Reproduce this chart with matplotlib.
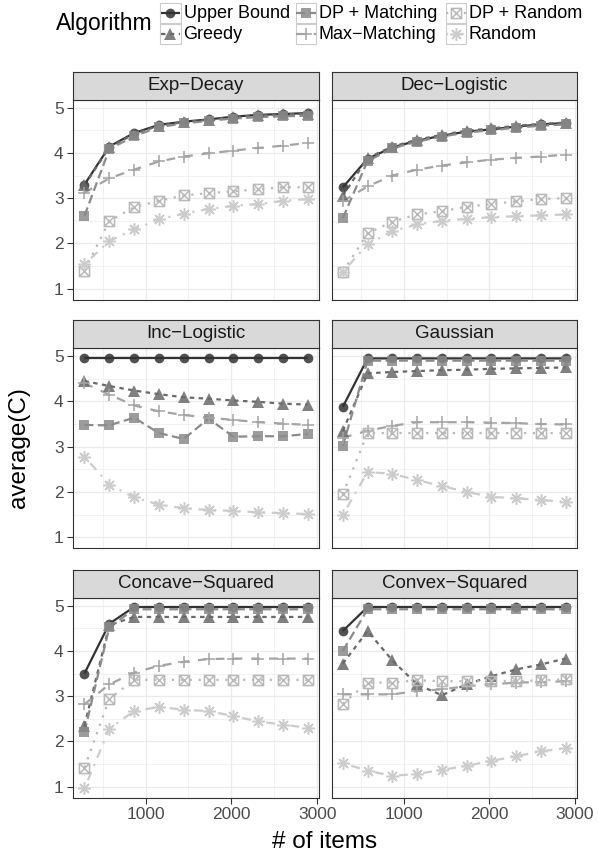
import numpy as np
import matplotlib
matplotlib.use("Agg")
import matplotlib.pyplot as plt
from matplotlib.path import Path
from matplotlib.patches import Rectangle

plt.rcParams['font.family'] = ['Liberation Sans', 'DejaVu Sans']

# ---------------- data ----------------
items = [289, 578, 867, 1156, 1445, 1734, 2023, 2312, 2601, 2890]
algorithms = ["Upper Bound", "Greedy", "DP + Matching", "Max\u2212Matching", "DP + Random", "Random"]
facets = ["Exp\u2212Decay", "Dec\u2212Logistic", "Inc\u2212Logistic", "Gaussian",
          "Concave\u2212Squared", "Convex\u2212Squared"]

exp_decay = {
    "Upper Bound":   [3.30, 4.14, 4.44, 4.62, 4.69, 4.74, 4.80, 4.84, 4.86, 4.88],
    "Greedy":        [3.28, 4.12, 4.42, 4.60, 4.68, 4.73, 4.79, 4.83, 4.85, 4.87],
    "DP + Matching": [2.61, 4.08, 4.37, 4.57, 4.65, 4.71, 4.76, 4.79, 4.81, 4.82],
    "Max\u2212Matching": [3.12, 3.44, 3.63, 3.81, 3.92, 3.99, 4.05, 4.11, 4.16, 4.22],
    "DP + Random":   [1.40, 2.49, 2.80, 2.94, 3.06, 3.11, 3.15, 3.20, 3.24, 3.24],
    "Random":        [1.54, 2.05, 2.31, 2.53, 2.66, 2.76, 2.83, 2.87, 2.94, 2.98],
}
dec_logistic = {
    "Upper Bound":   [3.24, 3.87, 4.12, 4.27, 4.38, 4.47, 4.52, 4.58, 4.63, 4.66],
    "Greedy":        [3.05, 3.89, 4.14, 4.29, 4.40, 4.49, 4.54, 4.60, 4.64, 4.67],
    "DP + Matching": [2.56, 3.82, 4.10, 4.25, 4.36, 4.45, 4.50, 4.56, 4.60, 4.63],
    "Max\u2212Matching": [2.93, 3.26, 3.50, 3.63, 3.72, 3.79, 3.85, 3.89, 3.92, 3.96],
    "DP + Random":   [1.37, 2.22, 2.48, 2.64, 2.71, 2.81, 2.87, 2.93, 2.98, 3.00],
    "Random":        [1.37, 1.98, 2.27, 2.42, 2.50, 2.54, 2.58, 2.60, 2.62, 2.64],
}
inc_logistic = {
    "Upper Bound":   [4.95, 4.95, 4.95, 4.95, 4.95, 4.95, 4.95, 4.95, 4.95, 4.95],
    "Greedy":        [4.45, 4.34, 4.24, 4.16, 4.09, 4.06, 4.02, 3.99, 3.95, 3.93],
    "DP + Matching": [3.48, 3.47, 3.64, 3.30, 3.17, 3.62, 3.22, 3.23, 3.23, 3.28],
    "Max\u2212Matching": [4.40, 4.15, 3.91, 3.78, 3.70, 3.64, 3.59, 3.54, 3.51, 3.48],
    "DP + Random":   [],
    "Random":        [2.78, 2.16, 1.88, 1.72, 1.64, 1.60, 1.58, 1.55, 1.53, 1.51],
}
gaussian = {
    "Upper Bound":   [3.88, 4.95, 4.95, 4.95, 4.95, 4.95, 4.95, 4.95, 4.95, 4.95],
    "Greedy":        [3.35, 4.62, 4.65, 4.67, 4.69, 4.70, 4.72, 4.73, 4.74, 4.75],
    "DP + Matching": [3.02, 4.90, 4.90, 4.90, 4.90, 4.90, 4.90, 4.90, 4.90, 4.90],
    "Max\u2212Matching": [3.20, 3.35, 3.46, 3.54, 3.54, 3.54, 3.53, 3.52, 3.50, 3.49],
    "DP + Random":   [1.95, 3.30, 3.30, 3.30, 3.30, 3.30, 3.30, 3.30, 3.30, 3.30],
    "Random":        [1.49, 2.44, 2.40, 2.26, 2.13, 2.00, 1.89, 1.86, 1.82, 1.78],
}
concave_squared = {
    "Upper Bound":   [3.50, 4.60, 4.97, 4.97, 4.97, 4.97, 4.97, 4.97, 4.97, 4.97],
    "Greedy":        [2.35, 4.57, 4.75, 4.75, 4.75, 4.75, 4.75, 4.75, 4.75, 4.75],
    "DP + Matching": [2.21, 4.52, 4.92, 4.92, 4.92, 4.92, 4.92, 4.92, 4.92, 4.92],
    "Max\u2212Matching": [2.82, 3.26, 3.52, 3.67, 3.76, 3.82, 3.83, 3.83, 3.83, 3.83],
    "DP + Random":   [1.42, 2.94, 3.36, 3.36, 3.36, 3.36, 3.36, 3.36, 3.36, 3.36],
    "Random":        [0.96, 2.28, 2.67, 2.76, 2.70, 2.67, 2.56, 2.44, 2.37, 2.30],
}
convex_squared = {
    "Upper Bound":   [4.44, 4.97, 4.97, 4.97, 4.97, 4.97, 4.97, 4.97, 4.97, 4.97],
    "Greedy":        [3.72, 4.44, 3.79, 3.26, 3.02, 3.26, 3.44, 3.59, 3.70, 3.83],
    "DP + Matching": [4.00, 4.92, 4.92, 4.92, 4.92, 4.92, 4.92, 4.92, 4.92, 4.92],
    "Max\u2212Matching": [3.04, 3.04, 3.04, 3.11, 3.15, 3.22, 3.26, 3.30, 3.31, 3.33],
    "DP + Random":   [2.83, 3.30, 3.30, 3.35, 3.33, 3.33, 3.33, 3.33, 3.35, 3.37],
    "Random":        [1.52, 1.35, 1.24, 1.28, 1.37, 1.46, 1.57, 1.67, 1.78, 1.85],
}
facet_data = [exp_decay, dec_logistic, inc_logistic, gaussian, concave_squared, convex_squared]

x_ticks = [1000, 2000, 3000]
y_ticks = [1, 2, 3, 4, 5]

# ---------------- styles ----------------
colors = ['#333333', '#6A6A6A', '#8B8B8B', '#A4A4A4', '#B9B9B9', '#CCCCCC']
linestyles = ['-', (0, (2, 2)), (0, (4, 2)), (0, (4, 4)), (0, (1, 3)), (0, (1, 3, 4, 3))]
boxx = Path([(-1, -1), (1, -1), (1, 1), (-1, 1), (-1, -1), (-1, -1), (1, 1), (-1, 1), (1, -1)],
            [Path.MOVETO, Path.LINETO, Path.LINETO, Path.LINETO, Path.CLOSEPOLY,
             Path.MOVETO, Path.LINETO, Path.MOVETO, Path.LINETO])
markers = ['o', '^', 's', '+', boxx, (8, 2, 0)]
msizes = [7.0, 8.5, 7.3, 9.0, 7.3, 9.0]
filled = [True, True, True, False, False, False]
LW = 1.6

W, H = 598, 856
fig = plt.figure(figsize=(W / 100, H / 100), dpi=100)

def fx(px):
    return px / W

def fy(py):
    return 1 - py / H

col_x = [(73.3, 319.0), (331.7, 576.7)]
row_y = [(99.5, 299.5), (348.0, 548.0), (597.5, 797.5)]
strip_h = 28

for i, (name, data) in enumerate(zip(facets, facet_data)):
    r, c = divmod(i, 2)
    x0, x1 = col_x[c]
    y0, y1 = row_y[r]
    ax = fig.add_axes([fx(x0), fy(y1), fx(x1) - fx(x0), fy(y0) - fy(y1)])
    ax.set_xlim(159, 3020)
    ax.set_ylim(0.76, 5.18)
    ax.set_xticks(x_ticks)
    ax.set_xticks([500, 1500, 2500], minor=True)
    ax.set_yticks(y_ticks)
    ax.set_yticks([1.5, 2.5, 3.5, 4.5], minor=True)
    ax.grid(True, which='major', color='#EBEBEB', lw=0.9)
    ax.grid(True, which='minor', color='#EBEBEB', lw=0.45)
    ax.set_axisbelow(True)
    for sp in ax.spines.values():
        sp.set_color('#333333')
        sp.set_linewidth(0.8)
    ax.tick_params(which='minor', length=0)
    ax.tick_params(which='major', length=4, width=0.8, color='#333333',
                   labelcolor='#4D4D4D', labelsize=12.5, pad=3)
    ax.tick_params(left=(c == 0), labelleft=(c == 0),
                   bottom=(r == 2), labelbottom=(r == 2))
    # lines
    for k, alg in enumerate(algorithms):
        vals = data[alg]
        if not vals:
            continue
        ax.plot(items, vals, color=colors[k], lw=LW, linestyle=linestyles[k],
                zorder=2 + k * 0.01, solid_capstyle='butt', dash_capstyle='butt')
    # points
    for k, alg in enumerate(algorithms):
        vals = data[alg]
        if not vals:
            continue
        if filled[k]:
            ax.plot(items, vals, linestyle='none', marker=markers[k], ms=msizes[k],
                    markerfacecolor=colors[k], markeredgewidth=0, alpha=0.85,
                    zorder=3 + k * 0.01)
        else:
            ax.plot(items, vals, linestyle='none', marker=markers[k], ms=msizes[k],
                    markerfacecolor='none', markeredgecolor=colors[k],
                    markeredgewidth=1.1, zorder=3 + k * 0.01)
    # strip
    sax = fig.add_axes([fx(x0), fy(y0), fx(x1) - fx(x0), fy(y0 - strip_h) - fy(y0)])
    sax.set_facecolor('#D9D9D9')
    sax.set_xticks([])
    sax.set_yticks([])
    for sp in sax.spines.values():
        sp.set_color('#333333')
        sp.set_linewidth(0.8)
    sax.text(0.5, 0.5, name, ha='center', va='center', fontsize=13.5, color='#1A1A1A',
             transform=sax.transAxes)

# axis titles
fig.text(fx(325), fy(842), "# of items", ha='center', va='center', fontsize=17.5, color='black')
fig.text(fx(19), fy(448), "average(C)", ha='center', va='center', rotation=90,
         fontsize=17.5, color='black')

# legend (drawn in pixel coordinates on an overlay axes)
lax = fig.add_axes([0, 0, 1, 1], facecolor='none')
lax.set_xlim(0, W)
lax.set_ylim(H, 0)
lax.axis('off')
lax.text(56, 23.5, "Algorithm", ha='left', va='center', fontsize=16.5, color='black')
key_x = [160.0, 295.5, 445.5]
key_y = [2.5, 23.5]
ks = 20.5
for k, alg in enumerate(algorithms):
    c, r = divmod(k, 2)
    kx, ky = key_x[c], key_y[r]
    lax.add_patch(Rectangle((kx, ky), ks, ks, facecolor='white', edgecolor='#CCCCCC', lw=0.8))
    lax.plot([kx + 0.5, kx + ks - 0.5], [ky + ks / 2, ky + ks / 2], color=colors[k], lw=LW,
             linestyle=linestyles[k], solid_capstyle='butt')
    if filled[k]:
        lax.plot([kx + ks / 2], [ky + ks / 2], marker=markers[k], ms=msizes[k],
                 markerfacecolor=colors[k], markeredgewidth=0, alpha=0.85, linestyle='none')
    else:
        lax.plot([kx + ks / 2], [ky + ks / 2], marker=markers[k], ms=msizes[k],
                 markerfacecolor='none', markeredgecolor=colors[k], markeredgewidth=1.1,
                 linestyle='none')
    lax.text(kx + ks + 3, ky + ks / 2 + 0.5, alg, ha='left', va='center', fontsize=13.0,
             color='black')

fig.savefig("out.png", dpi=100)
